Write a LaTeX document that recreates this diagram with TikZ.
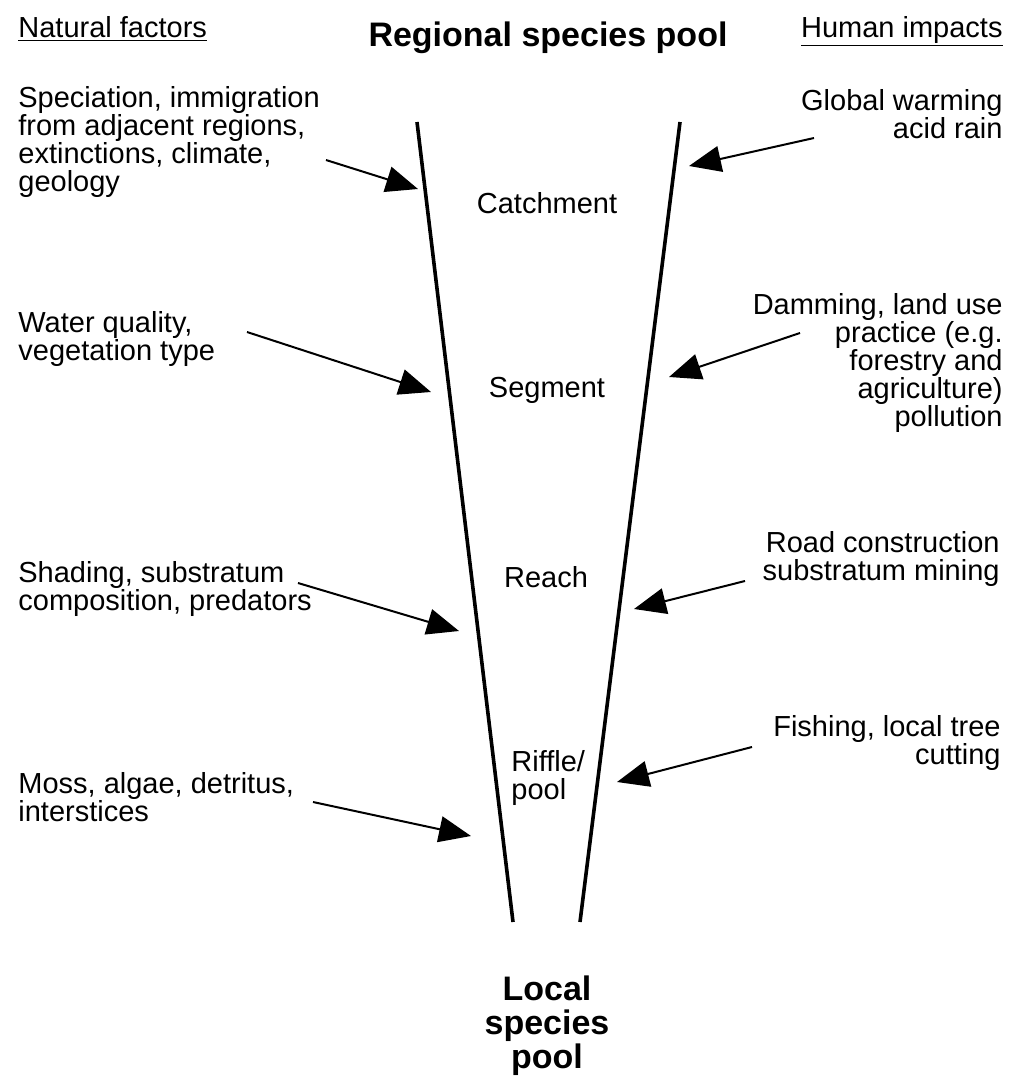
\documentclass[tikz,border=0pt]{standalone}
\usepackage{fontspec}
\setmainfont{Liberation Sans}
\usetikzlibrary{arrows.meta}
\begin{document}
\begin{tikzpicture}[x=0.5pt,y=-0.5pt,
  txt/.style={inner sep=0pt, font=\fontsize{14.5}{14}\selectfont},
  lefttxt/.style={txt, anchor=west, align=left},
  righttxt/.style={txt, anchor=east, align=right},
  head/.style={inner sep=0pt, font=\fontsize{17}{17}\selectfont\bfseries, align=center},
  funnel/.style={line width=1.8pt},
  impact/.style={line width=1pt, -{Triangle[length=16pt,width=13pt]}}]
\useasboundingbox (0,0) rectangle (1009,1076);

% headings
\node[txt, anchor=base west] (nat) at (18,37) {\underline{Natural factors}};
\node[txt, anchor=base east] (hum) at (1003,37) {\underline{Human impacts}};
\node[head] (reg) at (548,38) {Regional species pool};
\node[head] (loc) at (547,1026) {Local\\species\\pool};

% funnel
\coordinate (lt) at (417,122);
\coordinate (lb) at (513,922);
\coordinate (rt) at (680,122);
\coordinate (rb) at (580,922);
\draw[funnel] (lt) -- (lb);
\draw[funnel] (rt) -- (rb);

% scale levels
\node[txt] (catch) at (547,203) {Catchment};
\node[txt] (seg) at (547,390) {Segment};
\node[txt] (reach) at (546,577) {Reach};
\node[txt, anchor=west, align=left] (riff) at (511,778) {Riffle/\\pool};

% natural factors
\node[lefttxt] (n1) at (18,142) {Speciation, immigration\\from adjacent regions,\\extinctions, climate,\\geology};
\node[lefttxt] (n2) at (18,339) {Water quality,\\vegetation type};
\node[lefttxt] (n3) at (18,589) {Shading, substratum\\composition, predators};
\node[lefttxt] (n4) at (18,797) {Moss, algae, detritus,\\interstices};

% human impacts
\node[righttxt] (h1) at (1003,114) {Global warming\\acid rain};
\node[righttxt] (h2) at (1003,363) {Damming, land use\\practice (e.g.\\forestry and\\agriculture)\\pollution};
\node[righttxt] (h3) at (1000,559) {Road construction\\substratum mining};
\node[righttxt] (h4) at (1001,743) {Fishing, local tree\\cutting};

% arrow ends
\coordinate (a1s) at (326,160); \coordinate (a1e) at (418,189);
\coordinate (a2s) at (247,332); \coordinate (a2e) at (431,392);
\coordinate (a3s) at (298,583); \coordinate (a3e) at (459,631);
\coordinate (a4s) at (313,802); \coordinate (a4e) at (471,836);
\coordinate (b1s) at (814,138); \coordinate (b1e) at (689,166);
\coordinate (b2s) at (800,333); \coordinate (b2e) at (669,377);
\coordinate (b3s) at (745,581); \coordinate (b3e) at (634,609);
\coordinate (b4s) at (752,747); \coordinate (b4e) at (617,782);

\draw[impact] (a1s) -- (a1e);
\draw[impact] (a2s) -- (a2e);
\draw[impact] (a3s) -- (a3e);
\draw[impact] (a4s) -- (a4e);
\draw[impact] (b1s) -- (b1e);
\draw[impact] (b2s) -- (b2e);
\draw[impact] (b3s) -- (b3e);
\draw[impact] (b4s) -- (b4e);
\end{tikzpicture}
\end{document}
